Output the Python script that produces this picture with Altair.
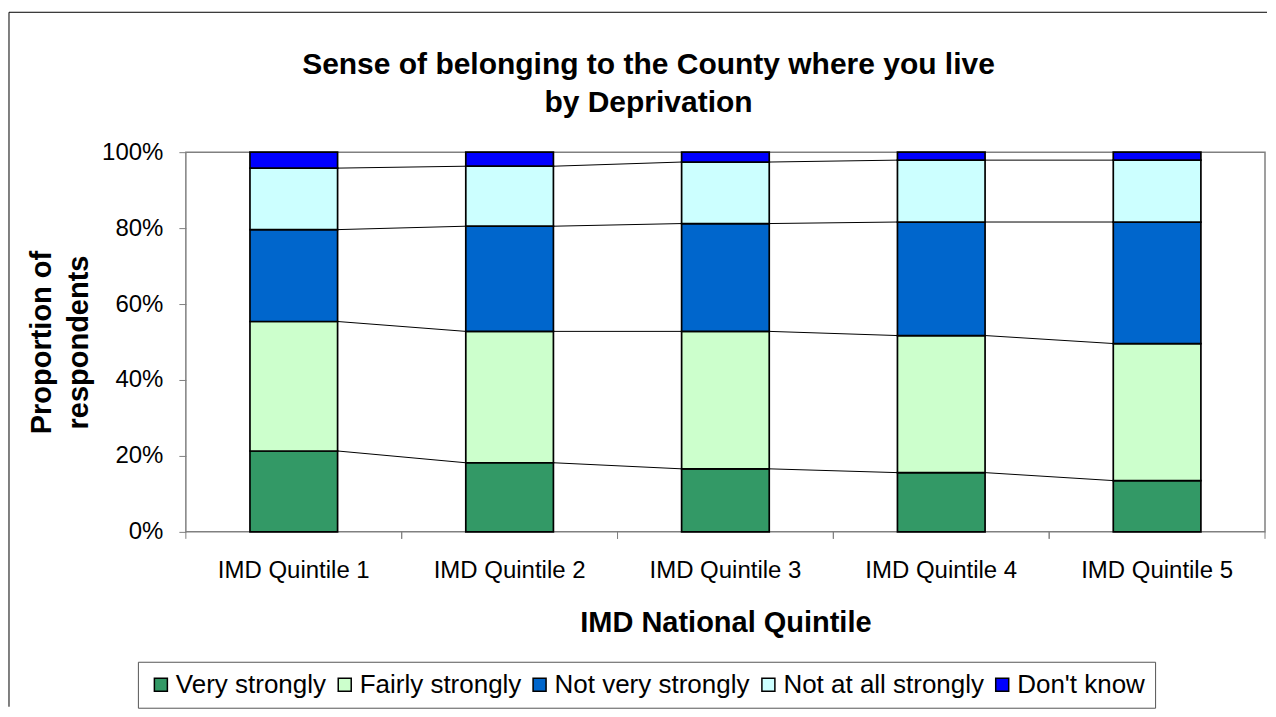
import altair as alt
import pandas as pd

# ---- data ----
quintiles = ["IMD Quintile 1", "IMD Quintile 2", "IMD Quintile 3", "IMD Quintile 4", "IMD Quintile 5"]
responses = ["Very strongly", "Fairly strongly", "Not very strongly", "Not at all strongly", "Don't know"]
colors = ["#339966", "#CCFFCC", "#0066CC", "#CCFFFF", "#0000FF"]

very_strongly = [21.3, 18.2, 16.6, 15.6, 13.5]
fairly_strongly = [34.1, 34.6, 36.2, 36.1, 36.1]
not_very_strongly = [24.2, 27.7, 28.4, 29.9, 32.0]
not_at_all_strongly = [16.2, 15.8, 16.2, 16.3, 16.3]
dont_know = [4.2, 3.7, 2.6, 2.1, 2.1]

y_ticks = [0, 20, 40, 60, 80, 100]
title_lines = ["Sense of belonging to the County where you live", "by Deprivation"]
x_title = "IMD National Quintile"
y_title = ["Proportion of", "respondents"]

FONT = "Liberation Sans"

# ---- tables built from the arrays ----
series = [very_strongly, fairly_strongly, not_very_strongly, not_at_all_strongly, dont_know]
rows = []
tops = []
for i, q in enumerate(quintiles):
    cum = 0.0
    t = []
    for j, r in enumerate(responses):
        v = series[j][i]
        rows.append({"quintile": q, "response": r, "order": j, "start": cum, "end": cum + v})
        cum += v
        t.append(cum)
    tops.append(t)
bars_df = pd.DataFrame(rows)

line_rows = []
for i in range(len(quintiles) - 1):
    for j in range(len(responses) - 1):
        line_rows.append({
            "quintile": quintiles[i],
            "next_quintile": quintiles[i + 1],
            "start": tops[i][j],
            "end": tops[i + 1][j],
        })
lines_df = pd.DataFrame(line_rows)

ticks_df = pd.DataFrame({"quintile": quintiles})
title_df = pd.DataFrame({"text": ["\n".join(title_lines)]})

W, H = 1080, 380
BAR = 0.406

x_scale = alt.Scale(domain=quintiles, paddingInner=0, paddingOuter=0)
y_scale = alt.Scale(domain=[0, 100])

bars = alt.Chart(bars_df).mark_bar(
    width=alt.RelativeBandSize(band=BAR), stroke="black", strokeWidth=1.7
).encode(
    x=alt.X("quintile:N", scale=x_scale, sort=quintiles, title=x_title,
            axis=alt.Axis(labelAngle=0, ticks=False, domain=False, grid=False,
                          labelPadding=27, labelFontSize=24, labelColor="black",
                          labelFont=FONT, titleFont=FONT,
                          titleFontSize=29, titleFontWeight="bold", titleColor="black",
                          titlePadding=26)),
    y=alt.Y("start:Q", scale=y_scale, title=y_title,
            axis=alt.Axis(values=y_ticks, labelExpr="datum.value + '%'", grid=False,
                          domain=False, tickSize=7, tickColor="#808080",
                          labelPadding=16, labelFontSize=24, labelColor="black",
                          labelFont=FONT, titleFont=FONT,
                          titleFontSize=29, titleFontWeight="bold", titleColor="black",
                          titlePadding=8, titleLineHeight=37)),
    y2="end:Q",
    color=alt.Color("response:N", scale=alt.Scale(domain=responses, range=colors),
                    legend=alt.Legend(title=None, orient="none", legendX=-48, legendY=510,
                                      direction="horizontal", columns=5,
                                      symbolType="square", symbolSize=169,
                                      symbolStrokeColor="black", symbolStrokeWidth=1.5,
                                      labelFontSize=26, labelFont=FONT, labelColor="black",
                                      labelLimit=1000,
                                      labelOffset=2, columnPadding=5, padding=10,
                                      strokeColor="#555555")),
    order=alt.Order("order:Q"),
)

series_lines = alt.Chart(lines_df).mark_rule(color="black", strokeWidth=1).encode(
    x=alt.X("quintile:N", bandPosition=0.5 + BAR / 2, title=x_title),
    x2=alt.X2("next_quintile", bandPosition=0.5 - BAR / 2),
    y=alt.Y("start:Q", title=y_title),
    y2="end:Q",
)

ticks_a = alt.Chart(ticks_df).mark_rule(color="#808080", strokeWidth=1).encode(
    x=alt.X("quintile:N", bandPosition=0, title=x_title),
    y=alt.value(H), y2=alt.value(H + 7),
)
ticks_b = alt.Chart(ticks_df).mark_rule(color="#808080", strokeWidth=1).encode(
    x=alt.X("quintile:N", bandPosition=1, title=x_title),
    y=alt.value(H), y2=alt.value(H + 7),
)

border_top = alt.Chart(title_df).mark_rule(color="black", strokeWidth=1).encode(
    x=alt.value(-177), x2=alt.value(1082), y=alt.value(-140),
)
border_left = alt.Chart(title_df).mark_rule(color="black", strokeWidth=1).encode(
    x=alt.value(-177), y=alt.value(-140), y2=alt.value(555),
)

title = alt.Chart(title_df).mark_text(
    font=FONT, fontSize=30, fontWeight="bold", color="black",
    align="center", baseline="alphabetic", lineBreak="\n", lineHeight=38,
).encode(
    text="text:N", x=alt.value(463), y=alt.value(-78),
)

chart = alt.layer(bars, series_lines, ticks_a, ticks_b, border_top, border_left, title).properties(
    width=W, height=H,
    padding={"left": 0, "top": 3, "right": 0, "bottom": 0},
    background="white",
).configure(font=FONT).configure_view(stroke="#808080", strokeWidth=1.5)

chart.save("out.html", embed_options={"renderer": "svg", "actions": False})
